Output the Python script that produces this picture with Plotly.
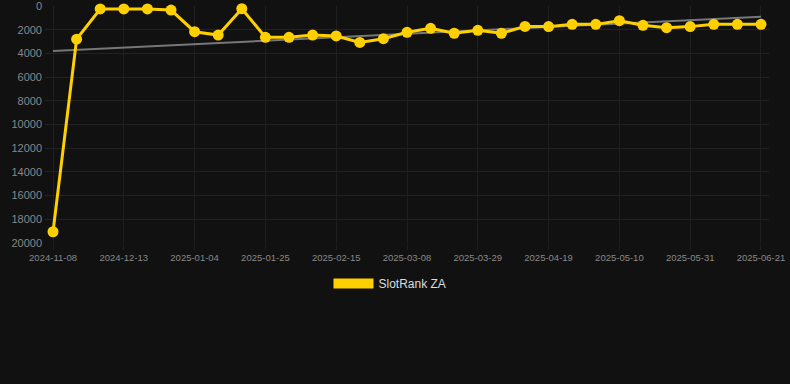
import plotly.graph_objects as go

dates = [
    "2024-11-08", "2024-11-22", "2024-11-29", "2024-12-13", "2024-12-20",
    "2024-12-27", "2025-01-04", "2025-01-11", "2025-01-18", "2025-01-25",
    "2025-02-01", "2025-02-08", "2025-02-15", "2025-02-22", "2025-03-01",
    "2025-03-08", "2025-03-15", "2025-03-22", "2025-03-29", "2025-04-05",
    "2025-04-12", "2025-04-19", "2025-04-26", "2025-05-03", "2025-05-10",
    "2025-05-17", "2025-05-24", "2025-05-31", "2025-06-07", "2025-06-14",
    "2025-06-21",
]
ranks = [
    19050, 2800, 250, 250, 250, 340, 2170, 2450, 230, 2640,
    2640, 2450, 2530, 3070, 2760, 2220, 1880, 2300, 2050, 2300,
    1720, 1740, 1550, 1550, 1240, 1630, 1830, 1740, 1550, 1550,
    1550,
]
trend_x = [dates[0], dates[-1]]
trend_y = [3800, 900]
tick_labels = dates[::3]
y_ticks = list(range(0, 20001, 2000))
y_tick_text = [str(v) for v in y_ticks]

YELLOW = "#FFD000"
BG = "#111111"

fig = go.Figure()
fig.add_trace(go.Scatter(
    x=trend_x, y=trend_y, mode="lines",
    line=dict(color="#777777", width=2),
    showlegend=False, hoverinfo="skip",
))
fig.add_trace(go.Scatter(
    x=dates, y=ranks, mode="lines+markers",
    line=dict(color=YELLOW, width=3),
    marker=dict(color=YELLOW, size=11),
    showlegend=False, cliponaxis=False,
))
fig.add_trace(go.Scatter(
    x=[None], y=[None], mode="lines", name="SlotRank ZA",
    line=dict(color=YELLOW, width=12),
))

fig.update_layout(
    width=790, height=384,
    paper_bgcolor=BG, plot_bgcolor=BG,
    margin=dict(l=45, r=21, t=6, b=141),
    font=dict(family="Liberation Sans, Arial, sans-serif", color="#888888"),
    legend=dict(
        orientation="h", x=0.4765, xanchor="center", y=-0.11, yanchor="top",
        font=dict(size=12, color="#dddddd"), itemwidth=40,
    ),
    xaxis=dict(
        type="category", categoryorder="array", categoryarray=dates,
        range=[-0.34, 30.34],
        tickvals=tick_labels, ticktext=tick_labels,
        tickfont=dict(size=9.5, color="#888888"),
        showgrid=True, gridcolor="#1f1f1f", gridwidth=1,
        ticks="outside", ticklen=6, tickcolor="#1f1f1f",
        showline=False, zeroline=False, ticklabeloverflow="allow",
        automargin=False,
    ),
    yaxis=dict(
        range=[20000, 0],
        tickvals=y_ticks, ticktext=y_tick_text,
        tickfont=dict(size=11, color="#888888"),
        showgrid=True, gridcolor="#222222", gridwidth=1,
        zeroline=False, showline=False, ticklabelstandoff=2,
        ticklabeloverflow="allow", automargin=False,
    ),
)

fig.write_html("out.html", config={"displayModeBar": False})

with open("out.html", "r", encoding="utf-8") as f:
    html = f.read()
html = html.replace("<head>", "<head><style>html,body{margin:0;padding:0;background:#111111;}</style>", 1)
with open("out.html", "w", encoding="utf-8") as f:
    f.write(html)
